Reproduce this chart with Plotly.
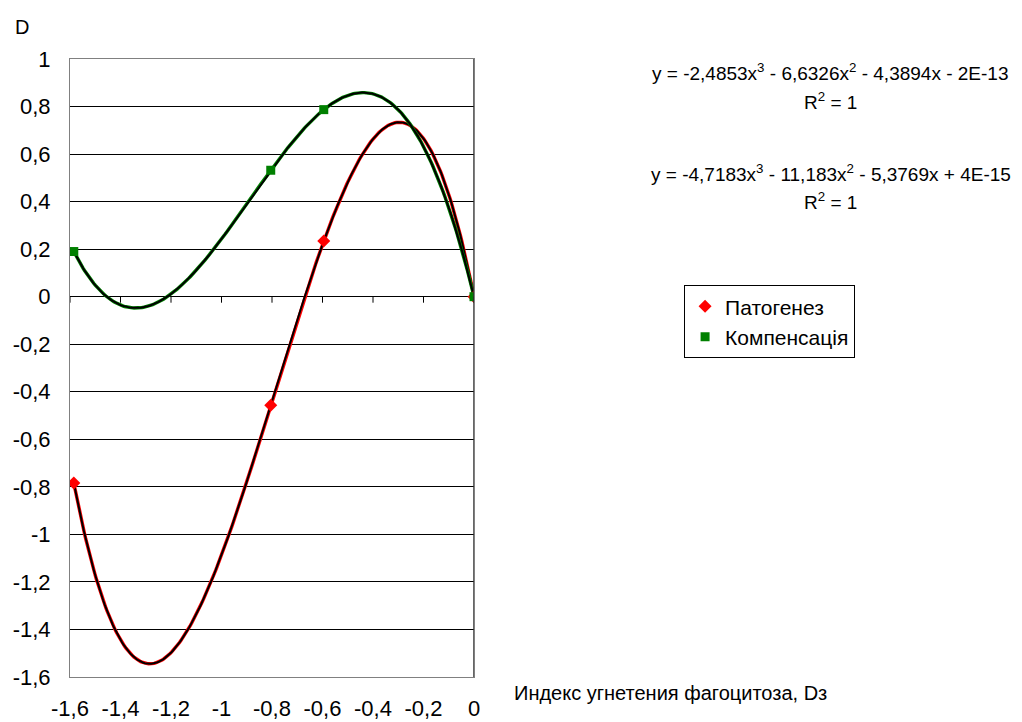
import numpy as np
import plotly.graph_objects as go

# ---- data ----
x_points = [-1.585, -0.805, -0.595, 0.0]
patogenez = [-0.784, -0.457, 0.234, 0.0]
kompensacia = [0.190, 0.532, 0.787, 0.0]

series_names = ["Патогенез", "Компенсація"]
series_colors = ["#FF0000", "#008000"]
series_symbols = ["diamond", "square"]

x_ticks = [-1.6, -1.4, -1.2, -1.0, -0.8, -0.6, -0.4, -0.2, 0.0]
x_ticktext = ["-1,6", "-1,4", "-1,2", "-1", "-0,8", "-0,6", "-0,4", "-0,2", "0"]
y_ticks = [-1.6, -1.4, -1.2, -1.0, -0.8, -0.6, -0.4, -0.2, 0.0, 0.2, 0.4, 0.6, 0.8, 1.0]
y_ticktext = ["-1,6", "-1,4", "-1,2", "-1", "-0,8", "-0,6", "-0,4", "-0,2", "0",
              "0,2", "0,4", "0,6", "0,8", "1"]

eq_texts = ["y = -2,4853x<sup>3</sup> - 6,6326x<sup>2</sup> - 4,3894x - 2E-13",
            "y = -4,7183x<sup>3</sup> - 11,183x<sup>2</sup> - 5,3769x + 4E-15"]
r2_text = "R<sup>2</sup> = 1"
x_title = "Индекс угнетения фагоцитоза, Dз"
y_title = "D"

FONT = "Liberation Sans, Arial, sans-serif"

fig = go.Figure()

# polynomial (3rd order) trendlines fitted to the points
xs = np.linspace(min(x_points), max(x_points), 300)
for ys, col in zip([patogenez, kompensacia], series_colors):
    coef = np.polyfit(x_points, ys, 3)
    yf = np.polyval(coef, xs)
    fig.add_trace(go.Scatter(x=xs, y=yf, mode="lines", line=dict(color=col, width=3.4),
                             showlegend=False, hoverinfo="skip"))
    fig.add_trace(go.Scatter(x=xs, y=yf, mode="lines", line=dict(color="#000000", width=2),
                             showlegend=False, hoverinfo="skip"))

for ys, name, col, sym in zip([patogenez, kompensacia], series_names, series_colors, series_symbols):
    fig.add_trace(go.Scatter(x=x_points, y=ys, mode="markers", name=name,
                             marker=dict(color=col, symbol=sym, size=10 if sym == "diamond" else 9,
                                         line=dict(width=0))))

# tick marks on the x axis line at y = 0
for t in x_ticks:
    fig.add_shape(type="line", xref="x", yref="y", x0=t, x1=t, ysizemode="pixel",
                  yanchor=0, y0=0, y1=-6, line=dict(color="#000000", width=1))
# y axis line at x = 0
fig.add_shape(type="line", xref="x", yref="paper", x0=0, x1=0, y0=0, y1=1,
              line=dict(color="#333333", width=1.5))

# equations
eq_y = [[0.979, 0.932], [0.815, 0.770]]
for txt, (y1, y2) in zip(eq_texts, eq_y):
    fig.add_annotation(text=txt, xref="paper", yref="paper", x=1.883, y=y1,
                       showarrow=False, xanchor="center", yanchor="middle",
                       font=dict(size=19, color="#000", family=FONT))
    fig.add_annotation(text=r2_text, xref="paper", yref="paper", x=1.883, y=y2,
                       showarrow=False, xanchor="center", yanchor="middle",
                       font=dict(size=19, color="#000", family=FONT))

fig.add_annotation(text=y_title, xref="paper", yref="paper", x=-0.119, y=1.052,
                   showarrow=False, xanchor="center", yanchor="middle",
                   font=dict(size=20, color="#000", family=FONT))
fig.add_annotation(text=x_title, xref="paper", yref="paper", x=1.094, y=-0.026,
                   showarrow=False, xanchor="left", yanchor="middle",
                   font=dict(size=20, color="#000", family=FONT))

fig.update_xaxes(range=[-1.6, 0], tickvals=x_ticks, ticktext=x_ticktext,
                 showgrid=False, zeroline=False, showline=True, mirror=True,
                 linecolor="#808080", linewidth=1, automargin=False,
                 ticks="outside", ticklen=12, tickcolor="rgba(0,0,0,0)",
                 tickfont=dict(size=22, color="#000", family=FONT))
fig.update_yaxes(range=[-1.6, 1.0], tickvals=y_ticks, ticktext=y_ticktext,
                 showgrid=True, gridcolor="#000000", gridwidth=1,
                 zeroline=True, zerolinecolor="#000000", zerolinewidth=1,
                 showline=True, mirror=True, linecolor="#808080", linewidth=1,
                 automargin=False,
                 ticks="outside", ticklen=14, tickcolor="rgba(0,0,0,0)",
                 tickfont=dict(size=22, color="#000", family=FONT))

fig.update_layout(
    width=1022, height=722,
    margin=dict(l=70, r=548, t=59, b=45),
    paper_bgcolor="white", plot_bgcolor="white",
    font=dict(family=FONT, color="#000"),
    legend=dict(x=1.52, y=0.634, xanchor="left", yanchor="top",
                bordercolor="#000000", borderwidth=1, bgcolor="white",
                font=dict(size=21, color="#000", family=FONT),
                itemwidth=30, tracegroupgap=0),
)

fig.write_html("out.html")
